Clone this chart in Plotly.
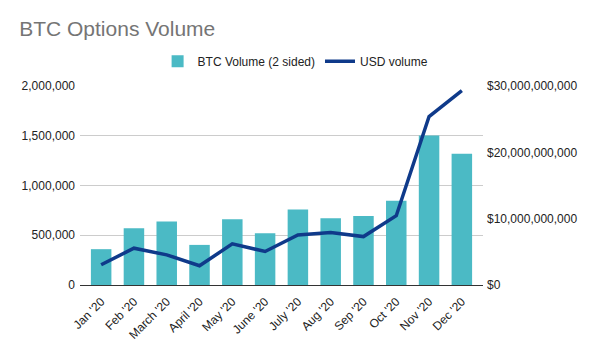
import plotly.graph_objects as go

months = ["Jan '20", "Feb '20", "March '20", "April '20", "May '20", "June '20",
          "July '20", "Aug '20", "Sep '20", "Oct '20", "Nov '20", "Dec '20"]
btc_volume = [360000, 570000, 637000, 403000, 660000, 520000,
              760000, 670000, 693000, 847000, 1503000, 1320000]
usd_volume = [3.05e9, 5.55e9, 4.55e9, 2.9e9, 6.2e9, 5.05e9,
              7.55e9, 7.9e9, 7.3e9, 10.45e9, 25.4e9, 29.3e9]
left_ticks = [0, 500000, 1000000, 1500000, 2000000]
left_labels = ["0", "500,000", "1,000,000", "1,500,000", "2,000,000"]
right_ticks = [0, 10e9, 20e9, 30e9]
right_labels = ["$0", "$10,000,000,000", "$20,000,000,000", "$30,000,000,000"]

fig = go.Figure()
fig.add_trace(go.Bar(x=months, y=btc_volume, name="BTC Volume (2 sided)",
                     marker=dict(color="#4bbac5", line=dict(width=0)), yaxis="y"))
fig.add_trace(go.Scatter(x=months, y=usd_volume, name="USD volume", mode="lines",
                         line=dict(color="#0f3a8a", width=3.5), yaxis="y2"))

font_family = "Liberation Sans, Arial, sans-serif"
fig.update_layout(
    width=600, height=354,
    margin=dict(l=80, r=117, t=86, b=67),
    paper_bgcolor="white", plot_bgcolor="white",
    font=dict(family=font_family, size=12, color="#222"),
    title=dict(text="BTC Options Volume", x=0.032, xanchor="left", y=0.918, yanchor="middle",
               font=dict(size=21, color="#757575", family=font_family)),
    bargap=0.375,
    showlegend=True,
    legend=dict(orientation="h", x=0.535, xanchor="center", y=1.124, yanchor="middle",
                font=dict(size=12, color="#222"), itemwidth=30, traceorder="normal"),
    xaxis=dict(range=[-0.645, 11.645], tickangle=-45, tickfont=dict(size=12, color="#222"),
               showgrid=False, showline=True, linecolor="#333", linewidth=1, ticks="",
               ticklabelstandoff=4),
    yaxis=dict(range=[0, 2000000], tickvals=left_ticks, ticktext=left_labels,
               showgrid=True, gridcolor="#cccccc", zeroline=False,
               tickfont=dict(size=12, color="#222"), ticks="", ticklabelstandoff=4),
    yaxis2=dict(range=[0, 30e9], tickvals=right_ticks, ticktext=right_labels,
                overlaying="y", side="right", showgrid=False, zeroline=False,
                tickfont=dict(size=12, color="#222"), ticks="", ticklabelstandoff=3),
)

fig.write_html("out.html")
